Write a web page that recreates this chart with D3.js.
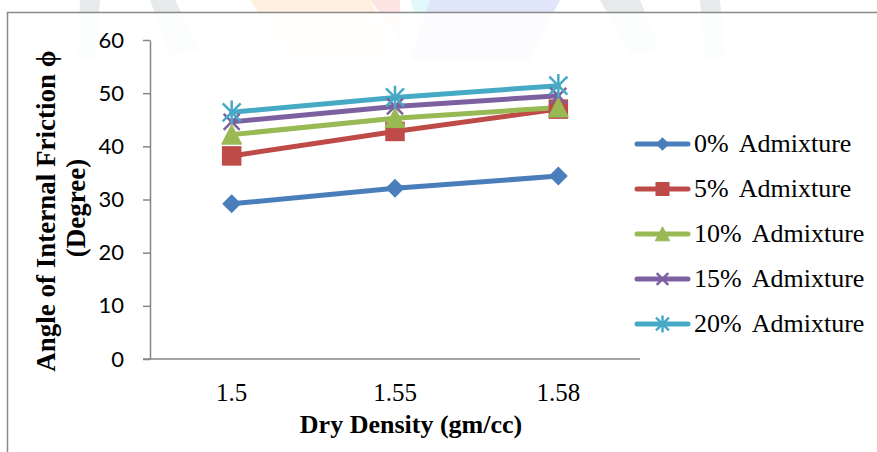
<!DOCTYPE html>
<html>
<head>
<meta charset="utf-8">
<script src="https://cdn.jsdelivr.net/npm/d3@7"></script>
<style>
  body { margin: 0; background: #fff; }
</style>
</head>
<body>
<div id="chart"></div>
<script>
const width = 877, height = 452;

// data
const densities = ["1.5", "1.55", "1.58"];
const seriesNames = ["0% Admixture", "5% Admixture", "10% Admixture", "15% Admixture", "20% Admixture"];
const adm0  = [29.2, 32.1, 34.4];
const adm5  = [38.2, 42.8, 47.0];
const adm10 = [42.2, 45.3, 47.3];
const adm15 = [44.6, 47.5, 49.5];
const adm20 = [46.4, 49.2, 51.4];
const yTicks = [0, 10, 20, 30, 40, 50, 60];

const colors = ["#4a7ebb", "#be4b48", "#98b954", "#7d60a0", "#46aac5"];
const markers = ["diamond", "square", "triangle", "cross", "star"];
const allValues = [adm0, adm5, adm10, adm15, adm20];

const series = seriesNames.map((name, i) => ({
  name: name,
  color: colors[i],
  marker: markers[i],
  values: allValues[i].map((v, j) => ({x: densities[j], y: v}))
}));

const svg = d3.select("#chart")
  .append("svg")
  .attr("width", width)
  .attr("height", height);

svg.append("rect").attr("width", width).attr("height", height).attr("fill", "#fff");

// faint watermark shapes behind the chart
const wm = svg.append("g").attr("opacity", 0.35);
wm.append("path").attr("d", "M80,0 L100,0 L95,60 L78,60 Z M150,0 L175,0 L200,50 L170,55 Z").attr("fill", "#b9c4c6");
wm.append("path").attr("d", "M250,0 L370,0 L400,60 L290,60 Z").attr("fill", "#ffd7a8");
wm.append("path").attr("d", "M370,0 L400,0 L400,40 Z").attr("fill", "#ffb3b3");
wm.append("path").attr("d", "M410,0 L440,0 L425,40 Z").attr("fill", "#a8f0f5");
wm.append("path").attr("d", "M430,0 L560,0 L530,60 L410,60 Z").attr("fill", "#a9b9ef");
wm.append("path").attr("d", "M600,0 L640,0 L660,50 L630,55 Z M700,0 L720,0 L725,60 L705,60 Z").attr("fill", "#b9c4c6");

// chart box
svg.append("rect")
  .attr("x", 7.5).attr("y", 12.5)
  .attr("width", 900).attr("height", 460)
  .attr("fill", "#fff").attr("fill-opacity", 0.88)
  .attr("stroke", "#8a8a8a").attr("stroke-width", 1.5);

const x = d3.scaleBand()
  .domain(densities)
  .range([150, 640]);

const y = d3.scaleLinear()
  .domain([0, 60])
  .range([359, 40]);

const cx = d => x(d) + x.bandwidth() / 2;

// y axis
const yAxis = svg.append("g")
  .attr("transform", "translate(150,0)")
  .call(d3.axisLeft(y).tickValues(yTicks).tickSize(7).tickSizeOuter(0).tickPadding(19));
yAxis.select(".domain").attr("stroke", "#868686").attr("stroke-width", 1.5);
yAxis.selectAll(".tick line").attr("stroke", "#868686").attr("stroke-width", 1.5);
yAxis.selectAll(".tick text")
  .attr("fill", "#000")
  .style("font-family", "Lato, 'Open Sans', sans-serif")
  .style("font-size", "22px");

// x axis
svg.append("line")
  .attr("x1", 143).attr("x2", 640)
  .attr("y1", y(0)).attr("y2", y(0))
  .attr("stroke", "#868686").attr("stroke-width", 1.5);

svg.selectAll(".xlabel")
  .data(densities)
  .enter()
  .append("text")
  .attr("class", "xlabel")
  .attr("x", d => cx(d))
  .attr("y", 401)
  .attr("text-anchor", "middle")
  .style("font-family", "'Liberation Serif', 'Times New Roman', serif")
  .style("font-size", "25px")
  .text(d => d);

// axis titles
svg.append("text")
  .attr("x", 411)
  .attr("y", 433)
  .attr("text-anchor", "middle")
  .style("font-family", "'Liberation Serif', 'Times New Roman', serif")
  .style("font-size", "26px")
  .style("font-weight", "bold")
  .text("Dry Density (gm/cc)");

const yTitle = svg.append("text")
  .attr("transform", "translate(55,211) rotate(-90)")
  .attr("text-anchor", "middle")
  .style("font-family", "'Liberation Serif', 'Times New Roman', serif")
  .style("font-size", "27px")
  .style("font-weight", "bold");
yTitle.append("tspan").attr("x", 0).attr("y", 0).text("Angle of Internal Friction ϕ");
yTitle.append("tspan").attr("x", 3).attr("y", 30).text("(Degree)");

// marker drawing
function drawMarker(g, type, color, s) {
  if (type === "diamond") {
    g.append("path")
      .attr("d", d3.symbol(d3.symbolSquare, 180 * s * s)())
      .attr("transform", "rotate(45)")
      .attr("fill", color);
  } else if (type === "square") {
    g.append("path")
      .attr("d", d3.symbol(d3.symbolSquare, 380 * s * s)())
      .attr("fill", color);
  } else if (type === "triangle") {
    const r = 10 * s;
    g.append("path")
      .attr("d", `M0,${-r} L${r},${r * 0.95} L${-r},${r * 0.95} Z`)
      .attr("fill", color)
      .attr("stroke", color)
      .attr("stroke-linejoin", "round")
      .attr("stroke-width", 1);
  } else if (type === "cross") {
    const r = 8 * s;
    g.append("path")
      .attr("d", `M${-r},${-r} L${r},${r} M${-r},${r} L${r},${-r}`)
      .attr("stroke", color)
      .attr("stroke-width", 2.5);
  } else if (type === "star") {
    const r = 9 * s;
    g.append("path")
      .attr("d", `M${-r},${-r} L${r},${r} M${-r},${r} L${r},${-r} M0,${-r * 1.3} L0,${r * 1.3}`)
      .attr("stroke", color)
      .attr("stroke-width", 2.5);
  }
}

const line = d3.line()
  .x(d => cx(d.x))
  .y(d => y(d.y));

series.forEach(s => {
  svg.append("path")
    .datum(s.values)
    .attr("fill", "none")
    .attr("stroke", s.color)
    .attr("stroke-width", 5)
    .attr("stroke-linejoin", "round")
    .attr("stroke-linecap", "round")
    .attr("d", line);
});

series.forEach(s => {
  s.values.forEach(d => {
    const g = svg.append("g").attr("transform", `translate(${cx(d.x)},${y(d.y)})`);
    drawMarker(g, s.marker, s.color, 1);
  });
});

// legend
const legend = svg.append("g");
series.forEach((s, i) => {
  const ly = 144 + i * 45;
  legend.append("line")
    .attr("x1", 637).attr("x2", 688)
    .attr("y1", ly).attr("y2", ly)
    .attr("stroke", s.color)
    .attr("stroke-width", 5)
    .attr("stroke-linecap", "round");
  const g = legend.append("g").attr("transform", `translate(662.5,${ly})`);
  drawMarker(g, s.marker, s.color, 0.72);
  legend.append("text")
    .attr("x", 694)
    .attr("y", ly + 8)
    .style("font-family", "'Liberation Serif', 'Times New Roman', serif")
    .style("font-size", "26px")
    .style("word-spacing", "5px")
    .text(s.name);
});
</script>
</body>
</html>
